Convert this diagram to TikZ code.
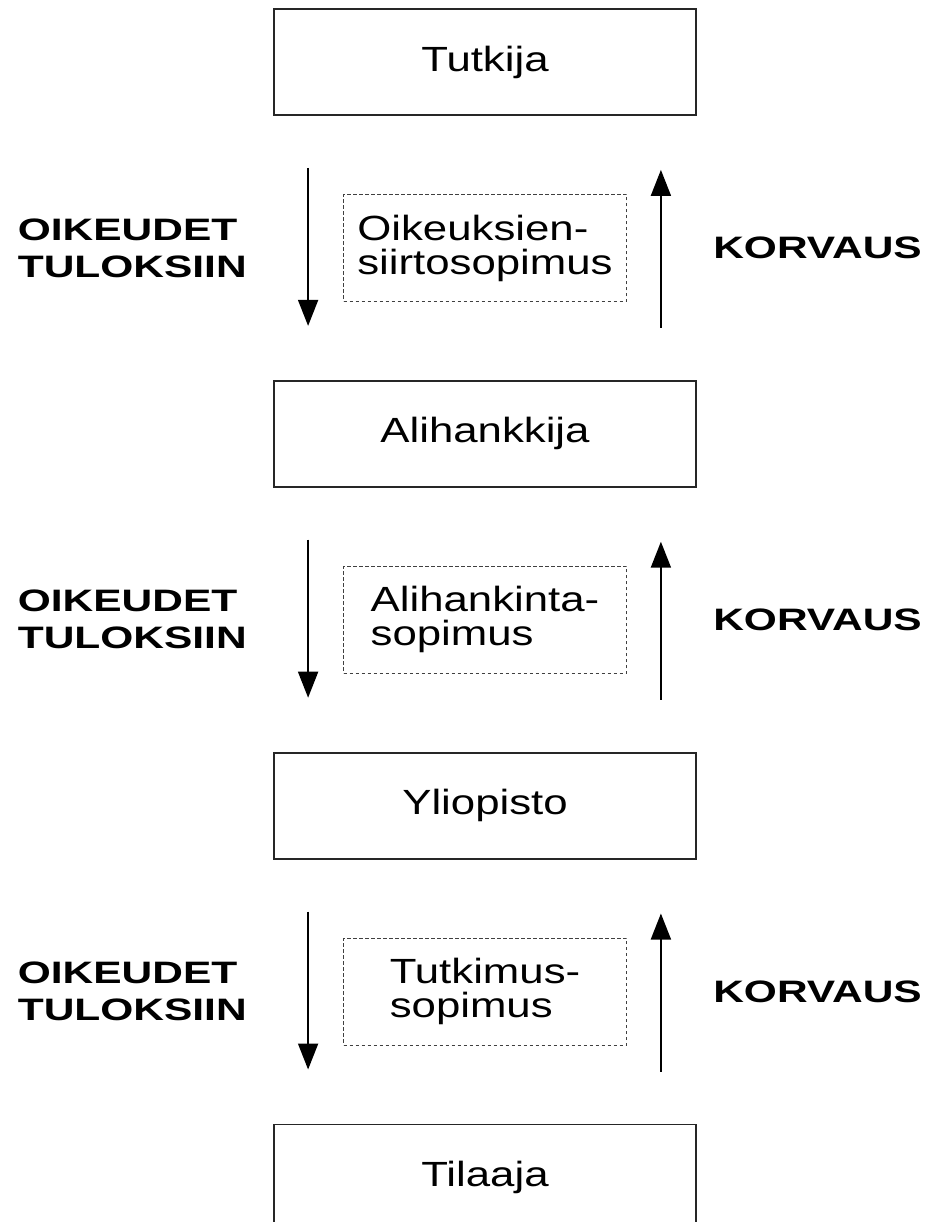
\documentclass[tikz,border=0pt]{standalone}
\usepackage{fontspec}
\setmainfont{Liberation Sans}
\newfontfamily\osapuolifont[FakeStretch=1.25]{Liberation Sans}
\newfontfamily\selitefont[FakeStretch=1.37]{Liberation Sans}
\usetikzlibrary{positioning,arrows.meta}

\begin{document}
\begin{tikzpicture}[x=1pt,y=-1pt]
        \tikzstyle{osapuoli}=[draw=black!85,line width=1.8pt,minimum width=422pt,minimum height=106pt,inner sep=0pt,font=\osapuolifont\fontsize{35pt}{35pt}\selectfont]
        \tikzstyle{sopimus}=[draw=black!75,line width=1.2pt,dash pattern=on 3.5pt off 2.5pt,minimum width=283pt,minimum height=107pt,inner sep=0pt,align=left,font=\osapuolifont\fontsize{35pt}{34pt}\selectfont]
        \tikzstyle{selite}=[inner sep=0pt,align=left,font=\selitefont\bfseries\fontsize{31pt}{37pt}\selectfont]
        \tikzstyle{nuoli}=[line width=1.8pt,-{Triangle[width=20pt,length=26pt]},shorten <=52pt,shorten >=54pt]

        \useasboundingbox (0,0) rectangle (933,1222);
        \clip (0,0) rectangle (933,1222);

        \node(tutkija)[osapuoli] at (485,62) {Tutkija};
        \node(alihankkija)[osapuoli,below=264pt of tutkija] {Alihankkija};
        \node(yliopisto)[osapuoli,below=264pt of alihankkija] {Yliopisto};
        \node(tilaaja)[osapuoli,below=264pt of yliopisto] {Tilaaja};

        \node(siirto)[sopimus,below=78pt of tutkija] {Oikeuksien-\\siirtosopimus};
        \node(alihankinta)[sopimus,below=78pt of alihankkija] {Alihankinta-\\sopimus};
        \node(tutkimus)[sopimus,below=78pt of yliopisto] {Tutkimus-\\sopimus};

        \node(oikeudet1)[selite,left=96pt of siirto] {OIKEUDET\\TULOKSIIN};
        \node(korvaus1)[selite,right=86pt of siirto] {KORVAUS};
        \node(oikeudet2)[selite,left=96pt of alihankinta] {OIKEUDET\\TULOKSIIN};
        \node(korvaus2)[selite,right=86pt of alihankinta] {KORVAUS};
        \node(oikeudet3)[selite,left=96pt of tutkimus] {OIKEUDET\\TULOKSIIN};
        \node(korvaus3)[selite,right=86pt of tutkimus] {KORVAUS};

        \draw[nuoli] ([xshift=35pt]tutkija.south west) -- ([xshift=35pt]alihankkija.north west);
        \draw[nuoli] ([xshift=-36pt]alihankkija.north east) -- ([xshift=-36pt]tutkija.south east);
        \draw[nuoli] ([xshift=35pt]alihankkija.south west) -- ([xshift=35pt]yliopisto.north west);
        \draw[nuoli] ([xshift=-36pt]yliopisto.north east) -- ([xshift=-36pt]alihankkija.south east);
        \draw[nuoli] ([xshift=35pt]yliopisto.south west) -- ([xshift=35pt]tilaaja.north west);
        \draw[nuoli] ([xshift=-36pt]tilaaja.north east) -- ([xshift=-36pt]yliopisto.south east);
\end{tikzpicture}
\end{document}
